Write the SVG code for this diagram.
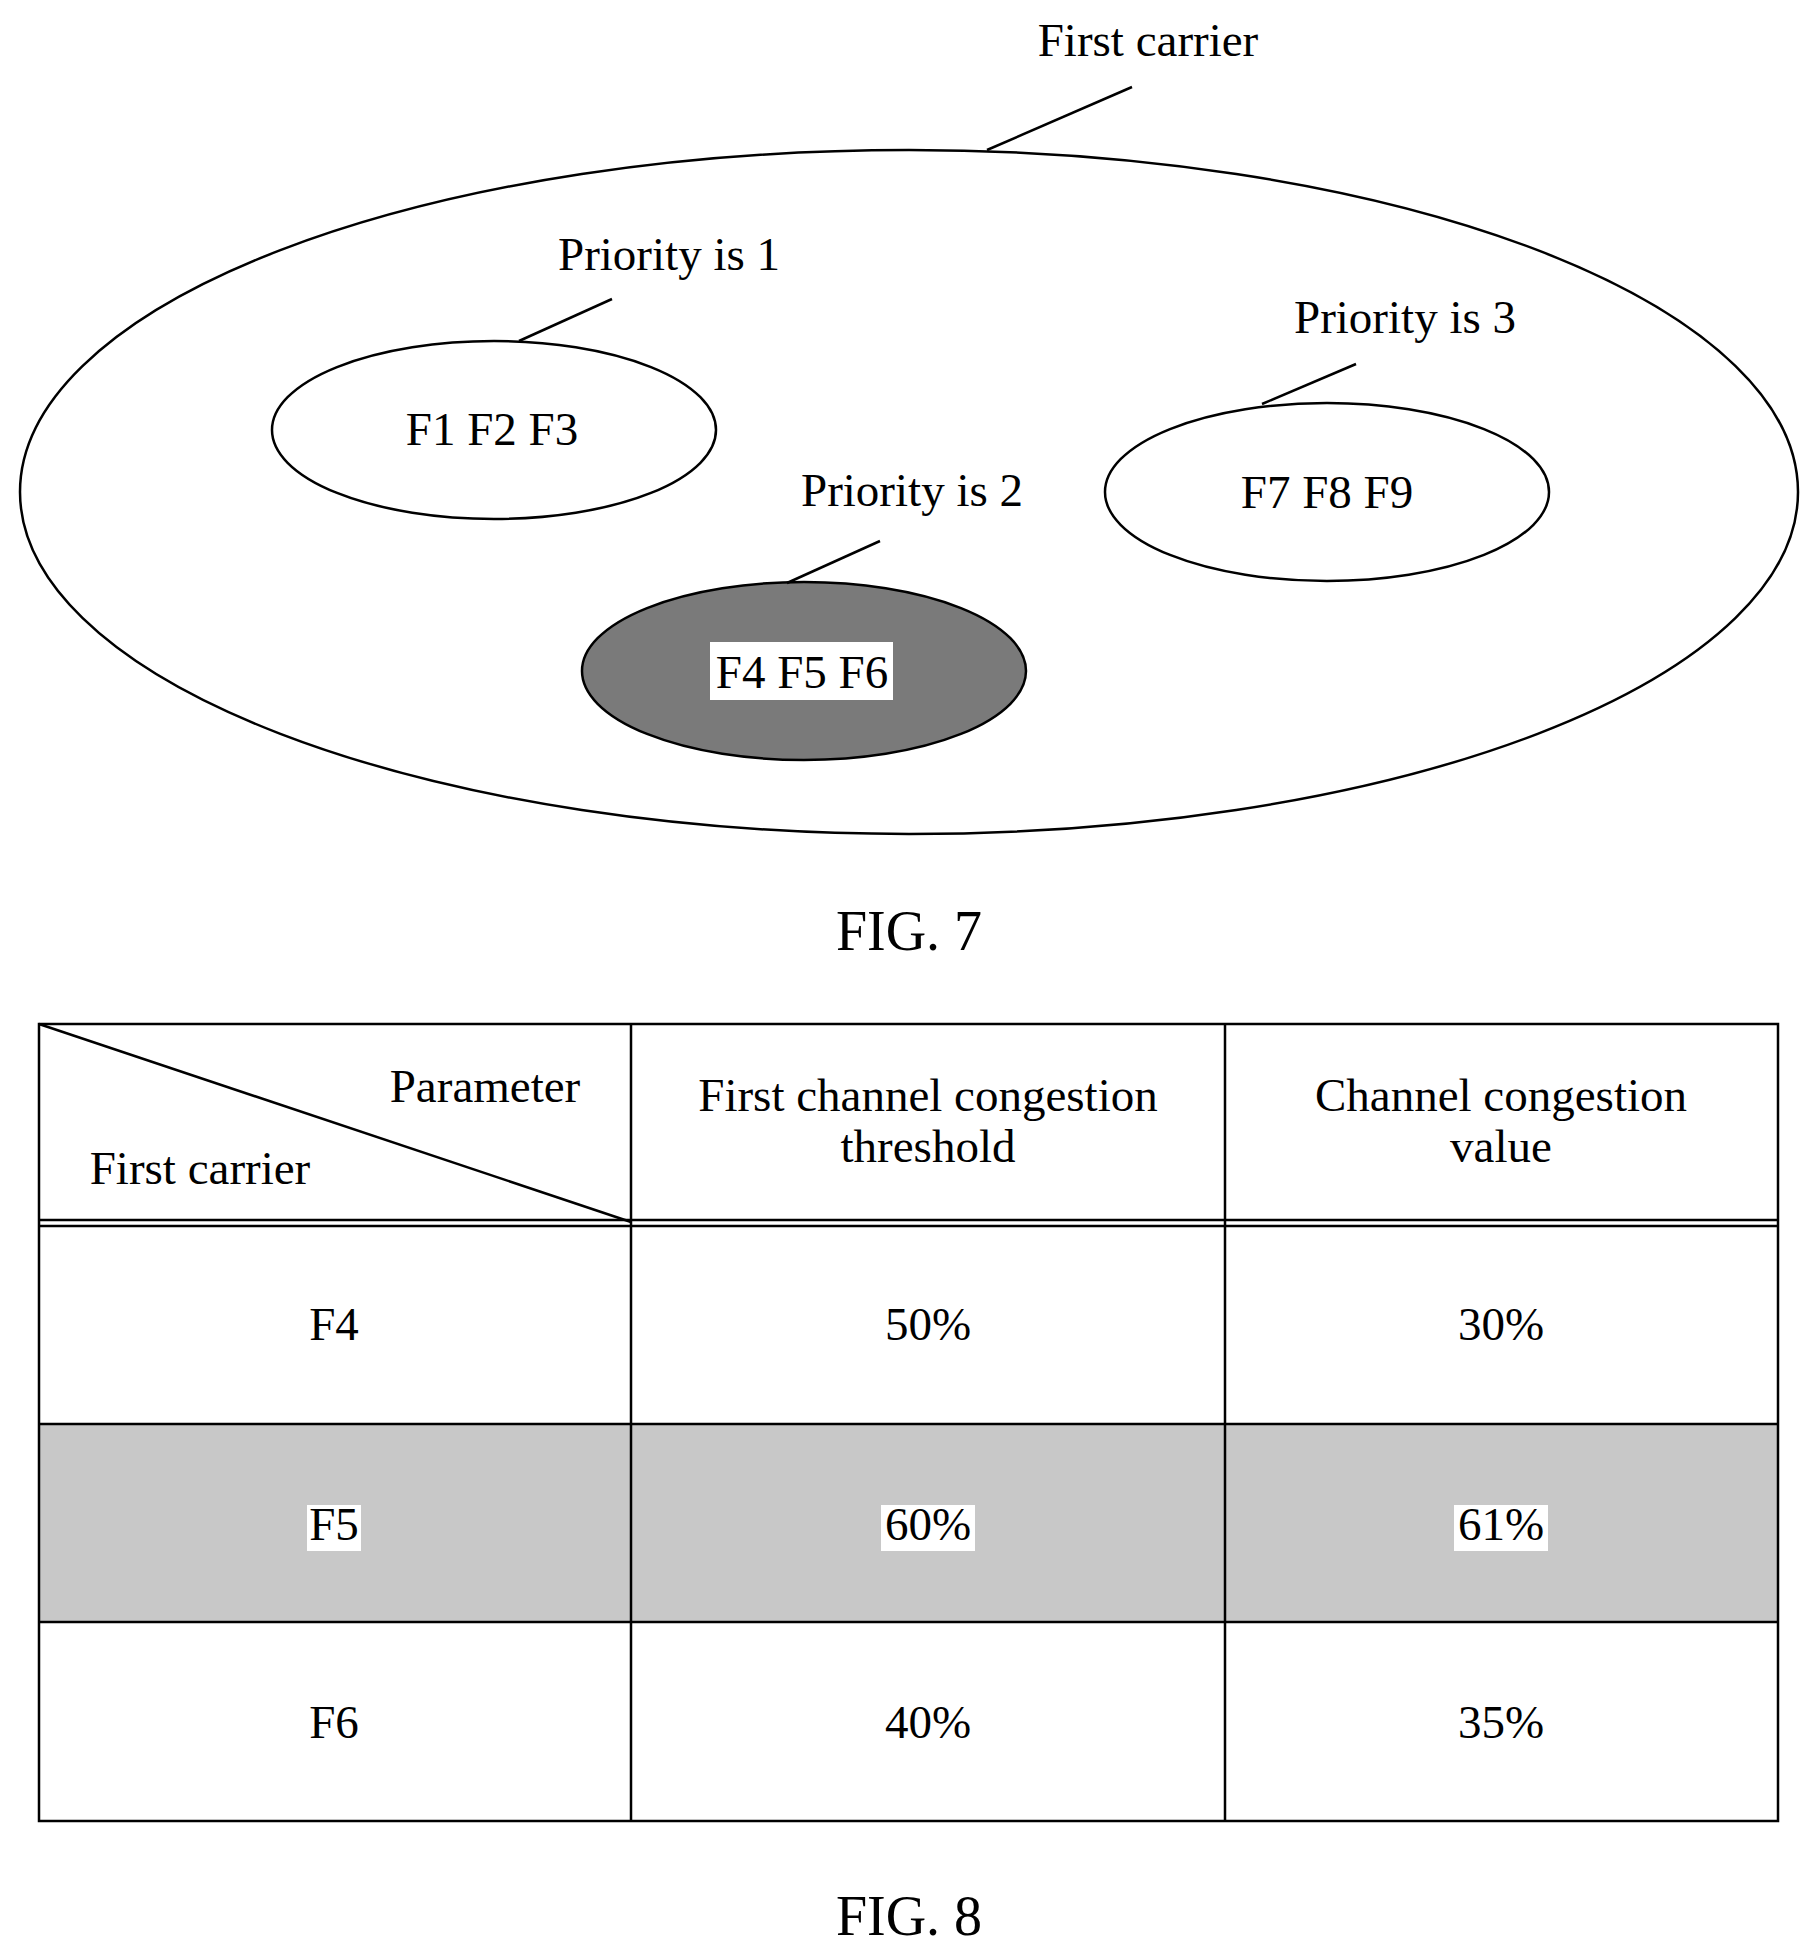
<svg xmlns="http://www.w3.org/2000/svg" width="1814" height="1956" viewBox="0 0 1814 1956">
<style>
text{font-family:"Liberation Serif","Times New Roman",serif;font-size:47px;fill:#000;text-anchor:middle}
.fig{font-size:56px}
.ln{stroke:#000;stroke-width:2.5;fill:none}
.ell{stroke:#000;stroke-width:2.5;fill:#fff}
</style>
<rect width="1814" height="1956" fill="#fff"/>
<g id="carrier">
<ellipse class="ell" cx="909" cy="492" rx="889" ry="342"/>
<text x="1148" y="56">First carrier</text>
</g>
<g id="p1">
<ellipse class="ell" cx="494" cy="430" rx="222" ry="89"/>
<text x="492" y="445">F1 F2 F3</text>
<text x="669" y="270">Priority is 1</text>
</g>
<g id="p2">
<ellipse cx="804" cy="671" rx="222" ry="89" fill="#7a7a7a" stroke="#000" stroke-width="2.5"/>
<rect x="710" y="642" width="183" height="58" fill="#fff"/>
<text x="802" y="688">F4 F5 F6</text>
<text x="912" y="506">Priority is 2</text>
</g>
<g id="p3">
<ellipse class="ell" cx="1327" cy="492" rx="222" ry="89"/>
<text x="1327" y="508">F7 F8 F9</text>
<text x="1405" y="333">Priority is 3</text>
</g>
<g id="connectors">
<line class="ln" x1="987" y1="150" x2="1132" y2="87"/>
<line class="ln" x1="519" y1="341" x2="612" y2="299"/>
<line class="ln" x1="787" y1="583" x2="880" y2="541"/>
<line class="ln" x1="1262" y1="404" x2="1356" y2="364"/>
</g>
<text class="fig" x="909" y="950">FIG. 7</text>
<g id="table">
<rect x="39" y="1424" width="1739" height="198" fill="#c8c8c8"/>
<rect x="39" y="1024" width="1739" height="797" class="ln"/>
<line class="ln" x1="631" y1="1024" x2="631" y2="1821"/>
<line class="ln" x1="1225" y1="1024" x2="1225" y2="1821"/>
<line class="ln" x1="39" y1="1220" x2="1778" y2="1220"/>
<line class="ln" x1="39" y1="1226" x2="1778" y2="1226"/>
<line class="ln" x1="39" y1="1424" x2="1778" y2="1424"/>
<line class="ln" x1="39" y1="1622" x2="1778" y2="1622"/>
<line class="ln" x1="39" y1="1024" x2="631" y2="1222"/>
<text x="485" y="1102">Parameter</text>
<text x="200" y="1184">First carrier</text>
<text x="928" y="1111">First channel congestion</text>
<text x="928" y="1162">threshold</text>
<text x="1501" y="1111">Channel congestion</text>
<text x="1501" y="1162">value</text>
<text x="334" y="1340">F4</text>
<text x="928" y="1340">50%</text>
<text x="1501" y="1340">30%</text>
<rect x="307" y="1505" width="54" height="46" fill="#fff"/>
<rect x="881" y="1505" width="94" height="46" fill="#fff"/>
<rect x="1454" y="1505" width="94" height="46" fill="#fff"/>
<text x="334" y="1540">F5</text>
<text x="928" y="1540">60%</text>
<text x="1501" y="1540">61%</text>
<text x="334" y="1738">F6</text>
<text x="928" y="1738">40%</text>
<text x="1501" y="1738">35%</text>
</g>
<text class="fig" x="909" y="1935">FIG. 8</text>
</svg>
